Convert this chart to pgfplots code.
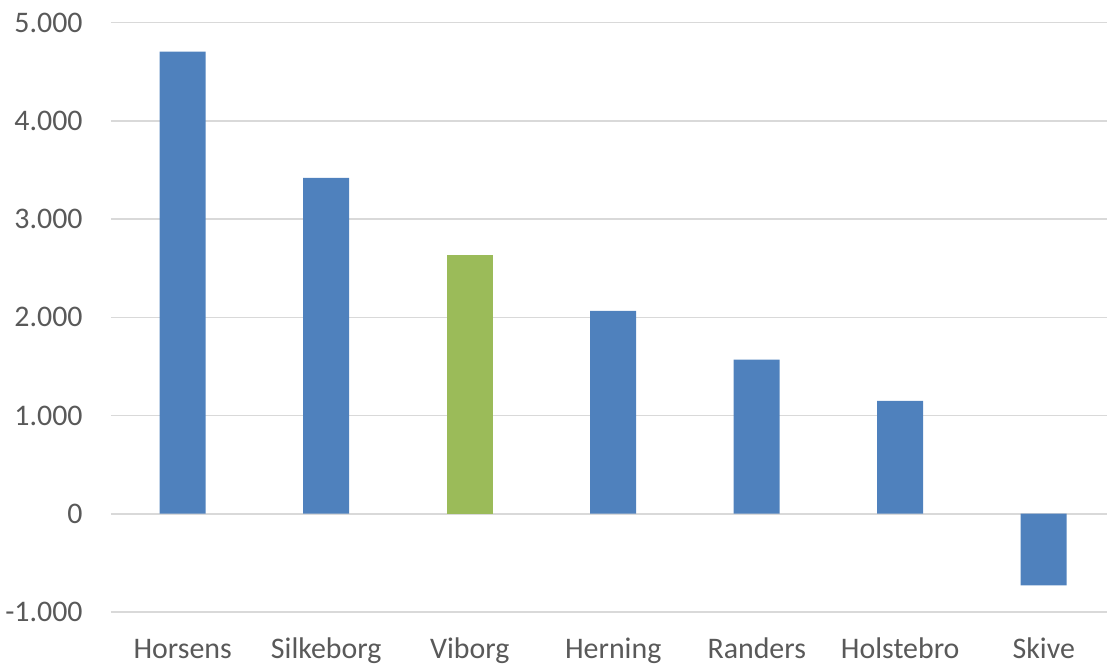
\documentclass[border=0pt]{standalone}
\usepackage{fontspec}
\setmainfont{Carlito}
\usepackage{pgfplots}
\pgfplotsset{compat=1.18}
\definecolor{barblue}{HTML}{4F81BD}
\definecolor{bargreen}{HTML}{9BBB59}
\definecolor{gridgray}{HTML}{D9D9D9}
\definecolor{txtgray}{HTML}{595959}
\begin{document}
\begin{tikzpicture}
\begin{axis}[
  x=71.75bp, y=0.0491bp,
  xmin=-0.5, xmax=6.441,
  ymin=-1000, ymax=5231,
  axis line style={draw=none},
  clip=false,
  ytick={-1000,0,1000,2000,3000,4000,5000},
  xtick={0,...,6},
  xticklabels={Horsens,Silkeborg,Viborg,Herning,Randers,Holstebro,Skive},
  major tick length=0pt,
  scaled y ticks=false,
  /pgf/number format/.cd, assume math mode=true, 1000 sep={.}, /pgfplots/.cd,
  ymajorgrids=true,
  grid style={gridgray, line width=0.8bp},
  every tick label/.append style={font=\fontsize{15}{18}\selectfont, text=txtgray},
  yticklabel style={anchor=east, inner sep=0pt, xshift=-14bp},
  xticklabel style={anchor=base, inner sep=0pt, yshift=-23.5bp},
  ybar, bar width=23bp,
]
\addplot[fill=barblue, draw=none, bar shift=0pt] coordinates {
  (0,4705) (1,3420) (3,2065) (4,1570) (5,1150) (6,-730)
};
\addplot[fill=bargreen, draw=none, bar shift=0pt] coordinates {
  (2,2630)
};
\coordinate (bl) at (axis cs:-1.2735,-1538);
\coordinate (tr) at (axis cs:6.441,5231);
\end{axis}
\pgfresetboundingbox
\useasboundingbox (bl) rectangle (tr);
\end{tikzpicture}
\end{document}
